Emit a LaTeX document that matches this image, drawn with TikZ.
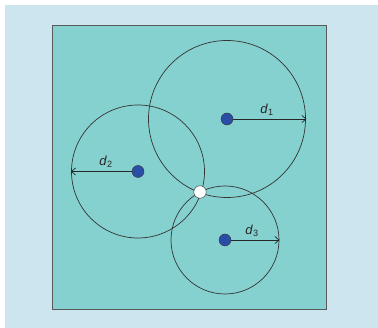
\documentclass[tikz,border=0pt]{standalone}
\usepackage{fontspec}
\setmainfont{Liberation Sans}
\usetikzlibrary{arrows.meta, positioning, calc}
\definecolor{paleblue}{HTML}{CDE5EE}
\definecolor{myteal}{HTML}{85D1CF}
\definecolor{dotblue}{HTML}{2A4EA6}
\tikzset{
	dotnode/.style={
			circle,
			draw=black!80,
			fill=dotblue,
			thin,
			minimum size=12pt,
			inner sep=0pt
		},
	crossnode/.style={
			dotnode,
			fill=white!95!paleblue,
			minimum size=12.5pt
		},
	rangecircle/.style={
			draw=black!80,
			line width=0.7pt
		},
	rangearrow/.style={
			draw=black!85,
			line width=0.7pt,
			-{Straight Barb[length=4pt, width=7pt]}
		}
}
\tikzset{
	labeltext/.style={font=\fontsize{13}{15}\selectfont\color{black!85}}
}
\begin{document}
\begin{tikzpicture}[x=1pt, y=-1pt]

				\useasboundingbox (0,0) rectangle (378,328);
				\fill[white] (0,0) rectangle (378,328);
				\fill[paleblue] (5,5) rectangle (378,328);
				\draw[fill=myteal, draw=black!65, line width=0.8pt] (52,25) rectangle (326.5,309);

				\node[dotnode] (c1) at (227,119) {};
				\node[dotnode] (c2) at (138,171.5) {};
				\node[dotnode] (c3) at (225,240) {};

				\draw[rangecircle] (c1.center) circle[radius=78.5];
				\draw[rangecircle] (c2.center) circle[radius=66.5];
				\draw[rangecircle] (c3.center) circle[radius=54];

				\coordinate (e1) at (306.5,119);
				\coordinate (e2) at (71,171.5);
				\coordinate (e3) at (279.5,240);

				\draw[rangearrow] (c1) -- (e1);
				\draw[rangearrow] (c2) -- (e2);
				\draw[rangearrow] (c3) -- (e3);

				\node[labeltext] (l1) at (267,110) {\textit{d}\textsubscript{1}};
				\node[labeltext] (l2) at (106,162) {\textit{d}\textsubscript{2}};
				\node[labeltext] (l3) at (252,231) {\textit{d}\textsubscript{3}};

				\node[crossnode] (p) at (200,192) {};

			\end{tikzpicture}
\end{document}
